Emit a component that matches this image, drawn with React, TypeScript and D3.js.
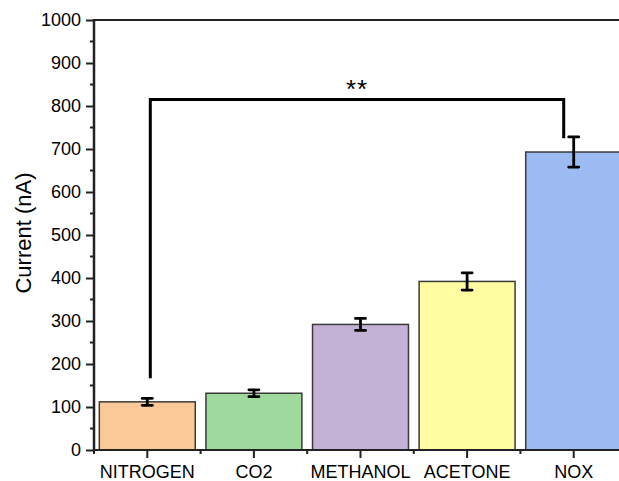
import React, { useRef, useEffect } from "react";
import * as d3 from "d3";

// data
const categories = ["NITROGEN", "CO2", "METHANOL", "ACETONE", "NOX"];
const currents = [112, 132, 292, 392, 693];
const errors = [8, 8, 14, 20, 35];
const colors = ["#fbc997", "#a0d99e", "#c3b2d6", "#fffca2", "#9cbbf2"];
const yTicks = [0, 100, 200, 300, 400, 500, 600, 700, 800, 900, 1000];

// significance bracket: from / to category, top value, leg ends
const bracketFrom = "NITROGEN";
const bracketTo = "NOX";
const bracketTop = 815;
const bracketLegs = [167, 725];
const bracketLabel = "**";

const W = 619;
const H = 481;
const FONT = "'Liberation Sans', Arial, sans-serif";

export default function App() {
  const svgRef = useRef<SVGSVGElement>(null);

  useEffect(() => {
    const svg = d3.select(svgRef.current);
    svg.selectAll("*").remove();

    const left = 94;
    const bottom = 450;
    const top = 20;

    //scales
    const x = d3
      .scaleBand<string>()
      .domain(categories)
      .range([left, left + 533])
      .paddingInner(0.1)
      .paddingOuter(0.05);

    const y = d3.scaleLinear().domain([0, 1000]).range([bottom, top]);

    const data = categories.map((c, i) => ({
      c,
      v: currents[i],
      e: errors[i],
      col: colors[i],
    }));

    //bars
    svg
      .selectAll(".bar")
      .data(data)
      .join("rect")
      .attr("class", "bar")
      .attr("x", (d) => x(d.c)!)
      .attr("y", (d) => y(d.v))
      .attr("width", x.bandwidth())
      .attr("height", (d) => y(0) - y(d.v))
      .attr("fill", (d) => d.col)
      .attr("stroke", "#3a3a3a")
      .attr("stroke-width", 1.5);

    //error bars
    const eb = svg
      .selectAll(".err")
      .data(data)
      .join("g")
      .attr("class", "err")
      .attr("stroke", "#000")
      .attr("stroke-width", 2.8);
    const cx = (d: any) => x(d.c)! + x.bandwidth() / 2;
    eb.append("line")
      .attr("x1", cx)
      .attr("x2", cx)
      .attr("y1", (d) => y(d.v - d.e))
      .attr("y2", (d) => y(d.v + d.e));
    eb.append("line")
      .attr("x1", (d) => cx(d) - 5)
      .attr("x2", (d) => cx(d) + 5)
      .attr("y1", (d) => y(d.v + d.e))
      .attr("y2", (d) => y(d.v + d.e))
      .attr("stroke-linecap", "round");
    eb.append("line")
      .attr("x1", (d) => cx(d) - 5)
      .attr("x2", (d) => cx(d) + 5)
      .attr("y1", (d) => y(d.v - d.e))
      .attr("y2", (d) => y(d.v - d.e))
      .attr("stroke-linecap", "round");

    //bracket
    const bx1 = x(bracketFrom)! + x.bandwidth() / 2 + 3;
    const bx2 = x(bracketTo)! + x.bandwidth() / 2 - 10;
    svg
      .append("path")
      .attr(
        "d",
        d3.line()([
          [bx1, y(bracketLegs[0])],
          [bx1, y(bracketTop)],
          [bx2, y(bracketTop)],
          [bx2, y(bracketLegs[1])],
        ])
      )
      .attr("fill", "none")
      .attr("stroke", "#000")
      .attr("stroke-width", 3);
    svg
      .append("text")
      .attr("x", (bx1 + bx2) / 2)
      .attr("y", y(bracketTop) - 2)
      .attr("text-anchor", "middle")
      .attr("font-family", FONT)
      .attr("font-size", 26)
      .attr("letter-spacing", 1)
      .text(bracketLabel);

    //frame top
    svg
      .append("line")
      .attr("x1", left)
      .attr("x2", W)
      .attr("y1", top)
      .attr("y2", top)
      .attr("stroke", "#222")
      .attr("stroke-width", 2);

    //y axis
    const yAxis = d3
      .axisLeft(y)
      .tickValues(yTicks)
      .tickSize(8)
      .tickPadding(5)
      .tickFormat(d3.format("d"));
    const gy = svg
      .append("g")
      .attr("transform", `translate(${left},0)`)
      .call(yAxis);
    gy.select(".domain").remove();
    gy.selectAll(".tick line").attr("stroke", "#222").attr("stroke-width", 2);
    gy.selectAll(".tick text")
      .attr("font-family", FONT)
      .attr("font-size", 18)
      .attr("fill", "#000");
    // minor ticks
    svg
      .selectAll(".ymin")
      .data(yTicks.slice(0, -1).map((t) => t + 50))
      .join("line")
      .attr("x1", left - 4)
      .attr("x2", left)
      .attr("y1", (d) => y(d))
      .attr("y2", (d) => y(d))
      .attr("stroke", "#222")
      .attr("stroke-width", 2);
    svg
      .append("line")
      .attr("x1", left)
      .attr("x2", left)
      .attr("y1", top - 1)
      .attr("y2", bottom + 1)
      .attr("stroke", "#222")
      .attr("stroke-width", 2.5);

    //x axis
    const xAxis = d3.axisBottom(x).tickSize(8).tickPadding(7);
    const gx = svg
      .append("g")
      .attr("transform", `translate(0,${bottom})`)
      .call(xAxis);
    gx.select(".domain").remove();
    gx.selectAll(".tick line").attr("stroke", "#222").attr("stroke-width", 2);
    gx.selectAll(".tick text")
      .attr("font-family", FONT)
      .attr("font-size", 18)
      .attr("fill", "#000");
    svg
      .selectAll(".xmin")
      .data(categories.map((c) => x(c)! - (x.step() - x.bandwidth()) / 2))
      .join("line")
      .attr("x1", (d) => d)
      .attr("x2", (d) => d)
      .attr("y1", bottom)
      .attr("y2", bottom + 4)
      .attr("stroke", "#222")
      .attr("stroke-width", 2);
    svg
      .append("line")
      .attr("x1", left - 1)
      .attr("x2", W)
      .attr("y1", bottom)
      .attr("y2", bottom)
      .attr("stroke", "#222")
      .attr("stroke-width", 2);

    //y title
    svg
      .append("text")
      .attr("transform", `translate(31,233) rotate(-90)`)
      .attr("text-anchor", "middle")
      .attr("font-family", FONT)
      .attr("font-size", 22)
      .text("Current (nA)");
  }, []);

  return (
    <svg
      ref={svgRef}
      width={W}
      height={H}
      style={{ position: "absolute", left: 0, top: 0, background: "#fff" }}
    ></svg>
  );
}
